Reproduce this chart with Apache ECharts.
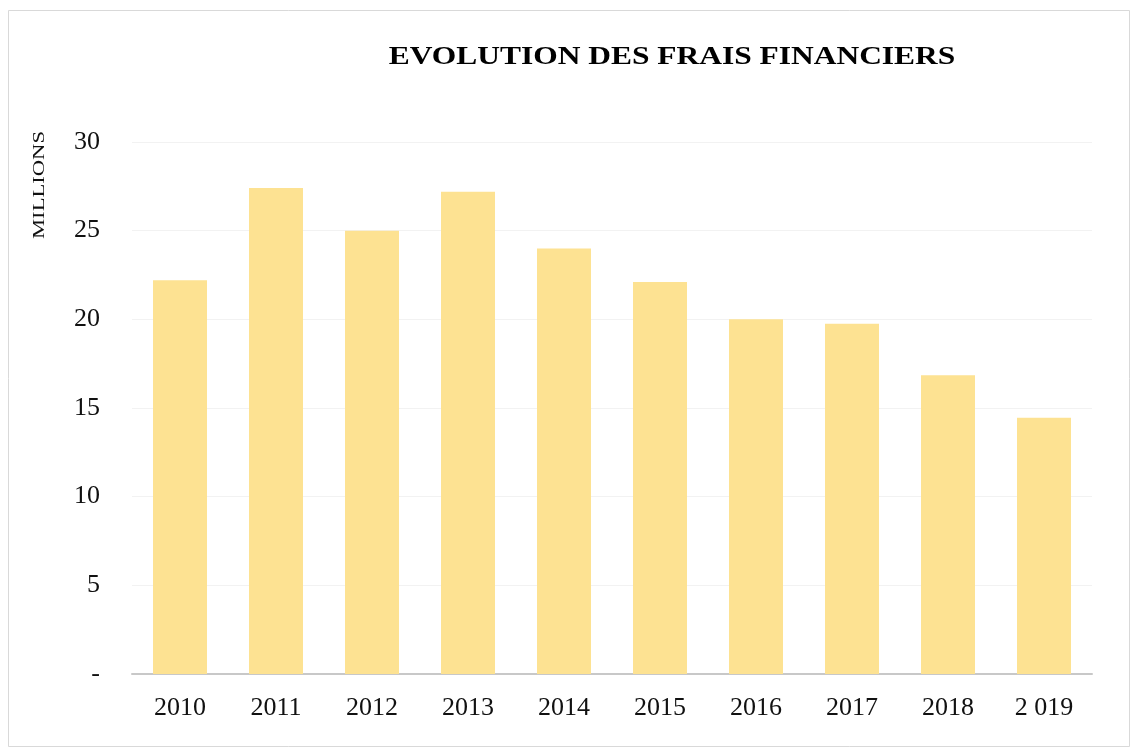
<!DOCTYPE html>
<html>
<head>
<meta charset="utf-8">
<script src="https://cdn.jsdelivr.net/npm/echarts@6/dist/echarts.min.js"></script>
<style>
  html, body { margin: 0; padding: 0; background: #fff; }
  #chart { width: 1139px; height: 751px; }
</style>
</head>
<body>
<div id="chart"></div>
<script>
// années et frais financiers (millions)
const years = ['2010', '2011', '2012', '2013', '2014', '2015', '2016', '2017', '2018', '2 019']
const frais = [22.2, 27.4, 25.0, 27.2, 24.0, 22.1, 20.0, 19.75, 16.85, 14.45]

const myChart = echarts.init(document.getElementById('chart'))
const font = '"Liberation Serif", "DejaVu Serif", serif'

const option = {
  backgroundColor: '#fff',
  graphic: [
    {
      type: 'rect',
      shape: { x: 8.5, y: 10.5, width: 1121, height: 736 },
      style: { fill: 'none', stroke: '#d9d9d9', lineWidth: 1 },
      silent: true
    },
    // titre (espacement des lettres élargi)
    {
      type: 'text',
      x: 672,
      y: 57,
      scaleX: 1.21,
      style: {
        text: 'EVOLUTION DES FRAIS FINANCIERS',
        font: 'bold 26px ' + font,
        fill: '#000',
        align: 'center',
        verticalAlign: 'middle'
      },
      silent: true
    },
    // titre de l'axe vertical
    {
      type: 'text',
      x: 40,
      y: 185,
      rotation: Math.PI / 2,
      scaleX: 1.33,
      style: {
        text: 'MILLIONS',
        font: '17px ' + font,
        fill: '#111',
        align: 'center',
        verticalAlign: 'middle'
      },
      silent: true
    }
  ],
  grid: {
    left: 132,
    right: 47,
    top: 142,
    bottom: 77,
    containLabel: false
  },
  xAxis: {
    type: 'category',
    data: years,
    axisLine: { lineStyle: { color: '#c8c8c8', width: 2 } },
    axisTick: { show: false },
    axisLabel: {
      fontFamily: font,
      fontSize: 26,
      color: '#111',
      margin: 21
    }
  },
  yAxis: {
    type: 'value',
    min: 0,
    max: 30,
    interval: 5,
    axisLine: { show: false },
    axisTick: { show: false },
    splitLine: { lineStyle: { color: '#f2f2f2', width: 1 } },
    axisLabel: {
      fontFamily: font,
      fontSize: 26,
      color: '#111',
      margin: 32,
      formatter: function (v) { return v === 0 ? '-' : String(v) }
    }
  },
  series: [{
    type: 'bar',
    data: frais,
    barWidth: 54,
    itemStyle: { color: '#fde292' },
    emphasis: { disabled: true }
  }]
}

myChart.setOption(option)
window.addEventListener('resize', function () {
  myChart.resize()
})
</script>
</body>
</html>
